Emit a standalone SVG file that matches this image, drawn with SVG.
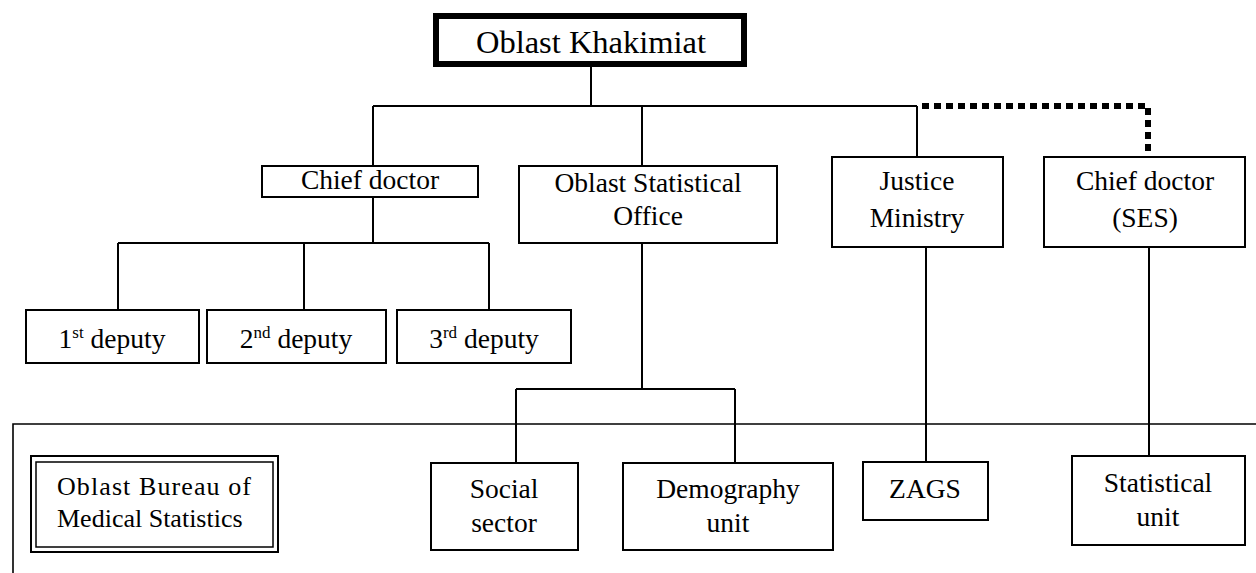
<svg xmlns="http://www.w3.org/2000/svg" width="1256" height="573" viewBox="0 0 1256 573">
<style>
  .box { fill: #fff; stroke: #000; stroke-width: 2; }
  .t { font-family: "Liberation Serif", "Times New Roman", serif; font-size: 27.5px; fill: #000; text-anchor: middle; }
  .sup { font-size: 17px; }
  .ln { fill: none; stroke: #000; stroke-width: 2; }
  .dot { fill: none; stroke: #000; stroke-width: 6; stroke-dasharray: 7 5; }
</style>
<rect width="1256" height="573" fill="#fff"/>
<g id="frame">
  <path d="M13,580 V424 H1260" fill="none" stroke="#000" stroke-width="1.6"/>
</g>
<g id="connectors">
  <path class="ln" d="M591,67 V106 M373,106 H917 M373,106 V166 M642,106 V166 M917,106 V157"/>
  <path class="dot" d="M922,106 H1148 V157"/>
  <path class="ln" d="M373,197 V243 M118,243 H489 M118,243 V310 M304,243 V310 M489,243 V310"/>
  <path class="ln" d="M642,243 V389 M516,389 H735 M516,389 V463 M735,389 V463"/>
  <path class="ln" d="M926,247 V462"/>
  <path class="ln" d="M1149,247 V456"/>
</g>
<g id="khakimiat">
  <rect x="436" y="16" width="308" height="48" fill="#fff" stroke="#000" stroke-width="6"/>
  <text class="t" x="591" y="53" style="font-size:32.5px">Oblast Khakimiat</text>
</g>
<g id="chief-doctor">
  <rect class="box" x="262" y="166" width="216" height="31"/>
  <text class="t" x="370" y="189">Chief doctor</text>
</g>
<g id="stat-office">
  <rect class="box" x="519" y="166" width="258" height="77"/>
  <text class="t" x="648" y="192">Oblast Statistical</text>
  <text class="t" x="648" y="225">Office</text>
</g>
<g id="justice">
  <rect class="box" x="832" y="157" width="171" height="90"/>
  <text class="t" x="917" y="190">Justice</text>
  <text class="t" x="917" y="227">Ministry</text>
</g>
<g id="chief-doctor-ses">
  <rect class="box" x="1044" y="157" width="201" height="90"/>
  <text class="t" x="1145" y="190">Chief doctor</text>
  <text class="t" x="1145" y="227">(SES)</text>
</g>
<g id="deputy1">
  <rect class="box" x="26" y="310" width="173" height="53"/>
  <text class="t" x="112" y="348">1<tspan class="sup" dy="-10">st</tspan><tspan dy="10"> deputy</tspan></text>
</g>
<g id="deputy2">
  <rect class="box" x="207" y="310" width="179" height="53"/>
  <text class="t" x="296" y="348">2<tspan class="sup" dy="-10">nd</tspan><tspan dy="10"> deputy</tspan></text>
</g>
<g id="deputy3">
  <rect class="box" x="397" y="310" width="174" height="53"/>
  <text class="t" x="484" y="348">3<tspan class="sup" dy="-10">rd</tspan><tspan dy="10"> deputy</tspan></text>
</g>
<g id="bureau">
  <rect x="31" y="456" width="247" height="96" fill="#fff" stroke="#000" stroke-width="2"/>
  <rect x="36" y="462" width="237" height="85" fill="none" stroke="#000" stroke-width="1.5"/>
  <text class="t" x="57" y="495" style="text-anchor:start;font-size:26px" textLength="194" lengthAdjust="spacing">Oblast Bureau of</text>
  <text class="t" x="57" y="527" style="text-anchor:start;font-size:26px">Medical Statistics</text>
</g>
<g id="social">
  <rect class="box" x="431" y="463" width="147" height="87"/>
  <text class="t" x="504" y="498">Social</text>
  <text class="t" x="504" y="532">sector</text>
</g>
<g id="demography">
  <rect class="box" x="623" y="463" width="210" height="87"/>
  <text class="t" x="728" y="498">Demography</text>
  <text class="t" x="728" y="532">unit</text>
</g>
<g id="zags">
  <rect class="box" x="863" y="462" width="125" height="58"/>
  <text class="t" x="925" y="498">ZAGS</text>
</g>
<g id="stat-unit">
  <rect class="box" x="1072" y="456" width="173" height="89"/>
  <text class="t" x="1158" y="492">Statistical</text>
  <text class="t" x="1158" y="526">unit</text>
</g>
</svg>
